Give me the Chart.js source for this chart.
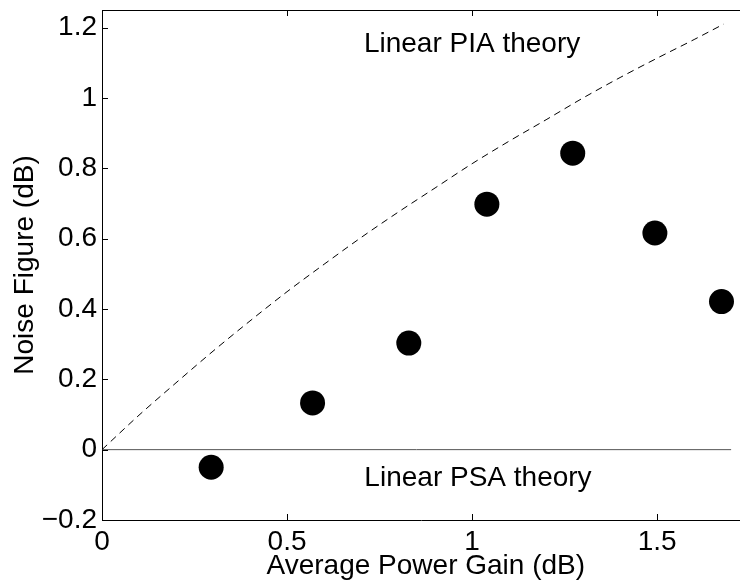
<!DOCTYPE html>
<html>
<head>
<meta charset="utf-8">
<script src="https://cdn.jsdelivr.net/npm/chart.js@4.4.0/dist/chart.umd.min.js"></script>
<style>
  html, body { margin: 0; padding: 0; background: #fff; overflow: hidden; }
  #nfChart { display: block; }
</style>
</head>
<body>
<canvas id="nfChart" width="740" height="587"></canvas>
<script>
// --- DATA ---
const gainMeasured = [0.295, 0.569, 0.829, 1.040, 1.272, 1.494, 1.674];
const nfMeasured = [-0.050, 0.133, 0.303, 0.698, 0.843, 0.616, 0.421];

// dashed "Linear PIA theory" curve
const gainPIA = [0, 0.1, 0.2, 0.3, 0.4, 0.5, 0.6, 0.7, 0.8, 0.9, 1.0, 1.1, 1.2, 1.3, 1.4, 1.5, 1.6, 1.68];
const nfPIA = [0, 0.098, 0.19, 0.28, 0.366, 0.449, 0.527, 0.603, 0.675, 0.744, 0.813, 0.877, 0.938, 1.0, 1.058, 1.113, 1.166, 1.21];

// flat "Linear PSA theory" line
const gainPSA = [0, 1.7];
const nfPSA = [0, 0];

const xTicks = [0, 0.5, 1, 1.5];
const yTicks = [-0.2, 0, 0.2, 0.4, 0.6, 0.8, 1, 1.2];

const FONT = '"Liberation Sans", Arial, Helvetica, sans-serif';
Chart.defaults.font.family = FONT;
Chart.defaults.color = '#000';

const toPoints = (xs, ys) => xs.map((v, i) => ({ x: v, y: ys[i] }));
const fmt = v => v < 0 ? '\u2212' + Math.abs(v) : String(v);

// MATLAB-like box: top edge, inward tick marks, text labels
const matlabAxes = {
    id: 'matlabAxes',
    afterDraw(chart) {
        const { ctx, chartArea: a, scales: { x, y } } = chart;
        ctx.save();
        ctx.strokeStyle = '#000';
        ctx.lineWidth = 1;
        ctx.beginPath();
        ctx.moveTo(a.left, a.top + 0.5);
        ctx.lineTo(a.right, a.top + 0.5);
        xTicks.forEach(v => {
            const px = Math.round(x.getPixelForValue(v)) + 0.5;
            ctx.moveTo(px, a.bottom);
            ctx.lineTo(px, a.bottom - 6);
            ctx.moveTo(px, a.top);
            ctx.lineTo(px, a.top + 6);
        });
        yTicks.forEach(v => {
            const py = Math.round(y.getPixelForValue(v)) + 0.5;
            ctx.moveTo(a.left, py);
            ctx.lineTo(a.left + 6, py);
        });
        ctx.stroke();

        ctx.fillStyle = '#000';
        ctx.font = '28px ' + FONT;
        ctx.textAlign = 'center';
        ctx.textBaseline = 'middle';
        ctx.fillText('Linear PIA theory', x.getPixelForValue(1.0), y.getPixelForValue(1.153));
        ctx.fillText('Linear PSA theory', x.getPixelForValue(1.016), y.getPixelForValue(-0.08));

        // x-axis title, centred on the full (cropped) axis box
        ctx.textBaseline = 'alphabetic';
        ctx.fillText('Average Power Gain (dB)', x.getPixelForValue(0.875), 574);
        ctx.restore();
    }
};

const ctx = document.getElementById('nfChart').getContext('2d');
new Chart(ctx, {
    type: 'scatter',
    data: {
        datasets: [
            {
                label: 'Measured',
                data: toPoints(gainMeasured, nfMeasured),
                pointRadius: 12.5,
                pointBackgroundColor: '#000',
                pointBorderWidth: 0
            },
            {
                label: 'Linear PIA theory',
                data: toPoints(gainPIA, nfPIA),
                showLine: true,
                borderColor: '#000',
                borderWidth: 1,
                borderDash: [7, 5],
                pointRadius: 0,
                cubicInterpolationMode: 'monotone'
            },
            {
                label: 'Linear PSA theory',
                data: toPoints(gainPSA, nfPSA),
                showLine: true,
                borderColor: '#555',
                borderWidth: 1,
                pointRadius: 0
            }
        ]
    },
    options: {
        responsive: false,
        animation: false,
        layout: { autoPadding: false, padding: { top: 10, right: 0, left: 0, bottom: 0 } },
        plugins: {
            legend: { display: false },
            tooltip: { enabled: false }
        },
        scales: {
            x: {
                type: 'linear',
                min: 0,
                max: 1.724,
                afterBuildTicks: s => { s.ticks = xTicks.map(v => ({ value: v })); },
                afterFit: s => { s.height = 67; s.paddingLeft = 0; s.paddingRight = 0; },
                grid: { display: false, drawTicks: false },
                border: { display: true, color: '#000', width: 1 },
                ticks: { color: '#000', font: { size: 28 }, padding: 5, maxRotation: 0, autoSkip: false, callback: fmt }
            },
            y: {
                type: 'linear',
                min: -0.2,
                max: 1.25,
                afterBuildTicks: s => { s.ticks = yTicks.map(v => ({ value: v })); },
                afterFit: s => { s.width = 102; s.paddingTop = 0; s.paddingBottom = 0; },
                grid: { display: false, drawTicks: false },
                border: { display: true, color: '#000', width: 1 },
                ticks: {
                    color: '#000',
                    font: { size: 28 },
                    padding: 5,
                    autoSkip: false,
                    callback: fmt
                },
                title: {
                    display: true,
                    text: 'Noise Figure (dB)',
                    color: '#000',
                    font: { size: 28 },
                    padding: { top: 8, bottom: 0 }
                }
            }
        }
    },
    plugins: [matlabAxes]
});
</script>
</body>
</html>
